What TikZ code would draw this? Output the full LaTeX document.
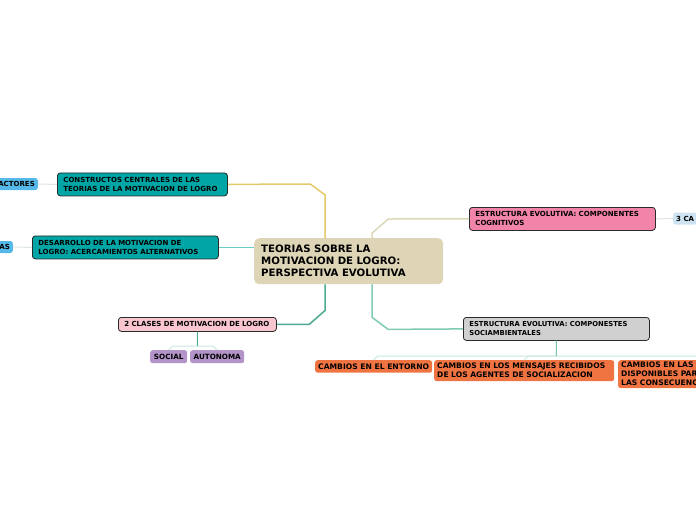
\documentclass[tikz,border=0pt]{standalone}
\usepackage{fontspec}
\setmainfont{DejaVu Sans}
\usepackage{xcolor}
\usetikzlibrary{positioning, calc}
\definecolor{rootfill}{HTML}{DDD5B5}
\definecolor{tealfill}{HTML}{00A5A5}
\definecolor{pinkfill}{HTML}{F283A9}
\definecolor{grayfill}{HTML}{D0D0D0}
\definecolor{rosefill}{HTML}{F9C6CF}
\definecolor{orangefill}{HTML}{F07441}
\definecolor{purplefill}{HTML}{B394C9}
\definecolor{bluefill}{HTML}{55B8E8}
\definecolor{skyfill}{HTML}{CDE3F2}
\definecolor{nodedraw}{HTML}{2A2A2A}
\definecolor{yellowln}{HTML}{E3C96A}
\definecolor{tealln}{HTML}{6CCBC3}
\definecolor{darktealln}{HTML}{4BAA92}
\definecolor{tanln}{HTML}{DDD8BA}
\definecolor{greenln}{HTML}{7FCBB0}
\definecolor{barln}{HTML}{C8E8E0}
\definecolor{faintln}{HTML}{DCE6DC}
\tikzset{
  topic/.style={rectangle, rounded corners=3pt, align=left, anchor=north west, inner xsep=6pt, inner ysep=1pt, font=\fontsize{7}{9}\selectfont\bfseries},
  main/.style={topic, draw=nodedraw, line width=0.8pt},
  tealtopic/.style={main, fill=tealfill},
  pinktopic/.style={main, fill=pinkfill},
  graytopic/.style={main, fill=grayfill},
  rosetopic/.style={main, fill=rosefill},
  leaf/.style={rectangle, rounded corners=2.5pt, inner xsep=3pt, inner ysep=1pt, align=left, font=\fontsize{7}{9}\selectfont\bfseries},
  orangeleaf/.style={leaf, anchor=north west, fill=orangefill, font=\fontsize{7.6}{9}\selectfont\bfseries},
  purpleleaf/.style={leaf, anchor=north west, fill=purplefill, align=center, font=\fontsize{7.2}{9}\selectfont\bfseries},
  blueleaf/.style={leaf, fill=bluefill},
  skyleaf/.style={leaf, fill=skyfill},
  conn/.style={line width=1.5pt},
  bar/.style={line width=1pt, draw=barln},
  faint/.style={line width=1pt, draw=faintln},
}
\begin{document}
\begin{tikzpicture}[x=1pt, y=-1pt]
  \useasboundingbox (0,0) rectangle (696,520);
  \clip (0,0) rectangle (696,520);

  % central topic
  \node[topic, fill=rootfill, rounded corners=5pt, inner xsep=7pt, text width=175pt, minimum height=46pt,
        font=\fontsize{10.2}{12}\selectfont\bfseries] (root) at (254,238)
        {TEORIAS SOBRE LA\\ MOTIVACION DE LOGRO:\\ PERSPECTIVA EVOLUTIVA};

  % main topics
  \node[tealtopic, text width=158pt, minimum height=23pt] (constr) at (57,172.5)
        {CONSTRUCTOS CENTRALES DE LAS\\ TEORIAS DE LA MOTIVACION DE LOGRO};
  \node[tealtopic, text width=174pt, minimum height=23pt] (desarr) at (32,235.5)
        {DESARROLLO DE LA MOTIVACION DE\\ LOGRO: ACERCAMIENTOS ALTERNATIVOS};
  \node[pinktopic, text width=174pt, minimum height=23pt] (cogn) at (469,207)
        {ESTRUCTURA EVOLUTIVA: COMPONENTES\\ COGNITIVOS};
  \node[graytopic, text width=174pt, minimum height=23pt, font=\fontsize{6.8}{9}\selectfont\bfseries] (socio) at (463,317)
        {ESTRUCTURA EVOLUTIVA: COMPONESTES\\ SOCIAMBIENTALES};
  \node[rosetopic, text width=146pt, minimum height=14pt] (clases) at (118,317)
        {2 CLASES DE MOTIVACION DE LOGRO};

  % side leaves
  \node[blueleaf, anchor=east, minimum height=12pt] (factores) at (38,184) {ACTORES};
  \node[blueleaf, anchor=east, minimum height=12pt] (alt) at (13,247) {AS};
  \node[skyleaf, anchor=west, minimum height=12pt] (tres) at (673,218.5) {3 CA};

  \node[purpleleaf, minimum width=37pt, minimum height=13pt] (social) at (150,350) {SOCIAL};
  \node[purpleleaf, minimum width=54pt, minimum height=13pt] (autonoma) at (190,350) {AUTONOMA};

  \node[orangeleaf, align=center, minimum width=116pt, minimum height=12.5pt] (entorno) at (315,360) {CAMBIOS EN EL ENTORNO};
  \node[orangeleaf, text width=174pt, minimum height=21pt] (mensajes) at (434,360)
        {CAMBIOS EN LOS MENSAJES RECIBIDOS\\ DE LOS AGENTES DE SOCIALIZACION};
  \node[orangeleaf, text width=164pt, minimum height=28pt] (oport) at (618,360)
        {CAMBIOS EN LAS O\\ DISPONIBLES PARA\\ LAS CONSECUENCIA};

  % connectors from the centre
  \draw[conn, yellowln] ([xshift=-23.5pt]root.north) -- ++(0,-43) -- ++(-15,-11) -- (constr.east);
  \draw[conn, tealln] (desarr.east) -- (desarr.east -| root.west);
  \draw[conn, darktealln] ([xshift=-23.5pt]root.south) -- ++(0,26) -- ++(-16,14) -- (clases.east);
  \draw[conn, tanln] ([xshift=23.5pt]root.north) -- ++(0,-5) -- ++(16,-14) -- (cogn.west);
  \draw[conn, greenln] ([xshift=23.5pt]root.south) -- ++(0,33) -- ++(16,12) -- (socio.west);

  % faint links to leaves
  \draw[faint] (constr.west) -- (factores.east);
  \draw[faint] (desarr.west) -- (alt.east);
  \draw[faint] (cogn.east) -- (tres.west);

  % child bars
  \draw[bar] (social.north) -- ++(4,-4) -| (clases.south);
  \draw[bar] (autonoma.north) -- ++(-4,-4) -| (clases.south);
  \draw[line width=1pt, darktealln] (clases.south) -- ++(0,14);

  \draw[bar] (entorno.north) -- ++(4,-4) -| (socio.south);
  \draw[bar] (mensajes.north) -- ++(4,-4) -| (socio.south);
  \draw[bar] (oport.north) -- ++(-4,-4) -| (socio.south);
  \draw[line width=1pt, greenln!80!darktealln] (socio.south) -- ++(0,15);
\end{tikzpicture}
\end{document}
